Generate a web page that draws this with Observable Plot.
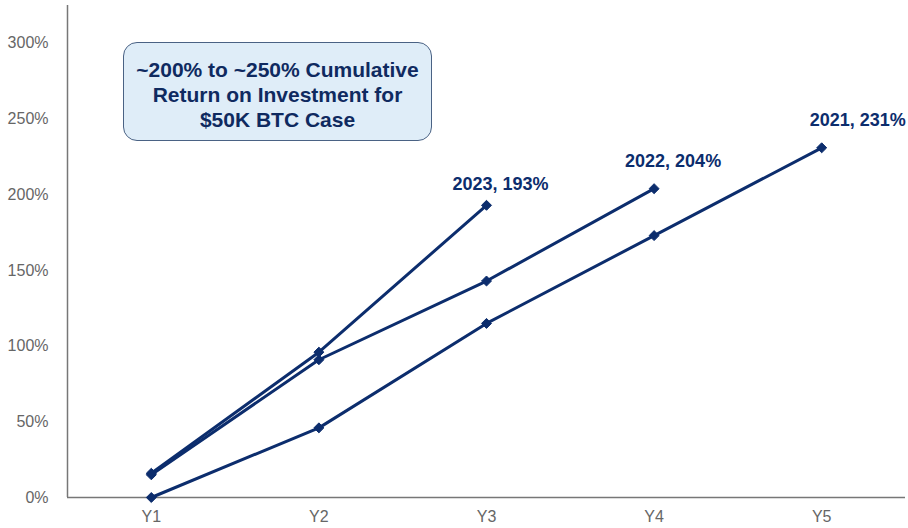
<!DOCTYPE html>
<html>
<head>
<meta charset="utf-8">
<script src="https://cdn.jsdelivr.net/npm/d3@7"></script>
<script src="https://cdn.jsdelivr.net/npm/@observablehq/plot@0.6"></script>
<style>
  html, body { margin: 0; padding: 0; background: #fff; }
  #wrap { position: relative; width: 908px; height: 528px; font-family: "Liberation Sans", Arial, sans-serif; }
  #note {
    position: absolute; left: 123px; top: 42px; width: 309px; height: 99px;
    box-sizing: border-box; border: 1.5px solid #4a6284; border-radius: 14px;
    background: #dfedf8; color: #0f2a60; font-weight: bold; font-size: 21px;
    line-height: 25px; text-align: center; padding-top: 14px;
  }
</style>
</head>
<body>
<div id="wrap"><div id="note">~200% to ~250% Cumulative<br>Return on Investment for<br>$50K BTC Case</div></div>
<script>
const years = ["Y1", "Y2", "Y3", "Y4", "Y5"];
const series2021 = [0, 46, 115, 173, 231];
const series2022 = [15, 91, 143, 204];
const series2023 = [16, 96, 193];
const yTicks = [0, 50, 100, 150, 200, 250, 300];

const navy = "#0c2d6d";
function rows(name, vals) {
  return vals.map((v, i) => ({series: name, x: i + 1, y: v}));
}
const data = [...rows("2021", series2021), ...rows("2022", series2022), ...rows("2023", series2023)];
const last = name => { const r = data.filter(d => d.series === name); return [r[r.length - 1]]; };
const label = d => `${d.series}, ${d.y}%`;
const textStyle = {fill: navy, fontWeight: "bold", fontSize: 18, text: label, x: "x", y: "y"};

const chart = Plot.plot({
  width: 908,
  height: 528,
  marginLeft: 67,
  marginRight: 3,
  marginTop: 5,
  marginBottom: 31,
  style: {fontFamily: "Liberation Sans, Arial, sans-serif", fontSize: "16px", color: "#666", background: "transparent"},
  x: {domain: [0.5, 5.5], ticks: [1, 2, 3, 4, 5], tickFormat: d => years[d - 1], tickSize: 0, tickPadding: 13, label: null},
  y: {domain: [0, 325], ticks: yTicks, tickFormat: d => d + "%", tickSize: 0, tickPadding: 19, label: null},
  marks: [
    Plot.ruleY([0], {stroke: "#777", strokeWidth: 1.5}),
    Plot.ruleX([0.5], {stroke: "#777", strokeWidth: 1.5}),
    Plot.line(data, {x: "x", y: "y", z: "series", stroke: navy, strokeWidth: 3}),
    Plot.dot(data, {x: "x", y: "y", symbol: "diamond2", r: 4.5, fill: navy, stroke: navy, strokeWidth: 1}),
    Plot.text(last("2023"), {...textStyle, dx: 14, dy: -21}),
    Plot.text(last("2022"), {...textStyle, dx: 19, dy: -27}),
    Plot.text(last("2021"), {...textStyle, dx: 36, dy: -28})
  ]
});
chart.style.position = "absolute";
chart.style.left = "0";
chart.style.top = "0";
const wrap = document.getElementById("wrap");
wrap.insertBefore(chart, wrap.firstChild);
</script>
</body>
</html>
